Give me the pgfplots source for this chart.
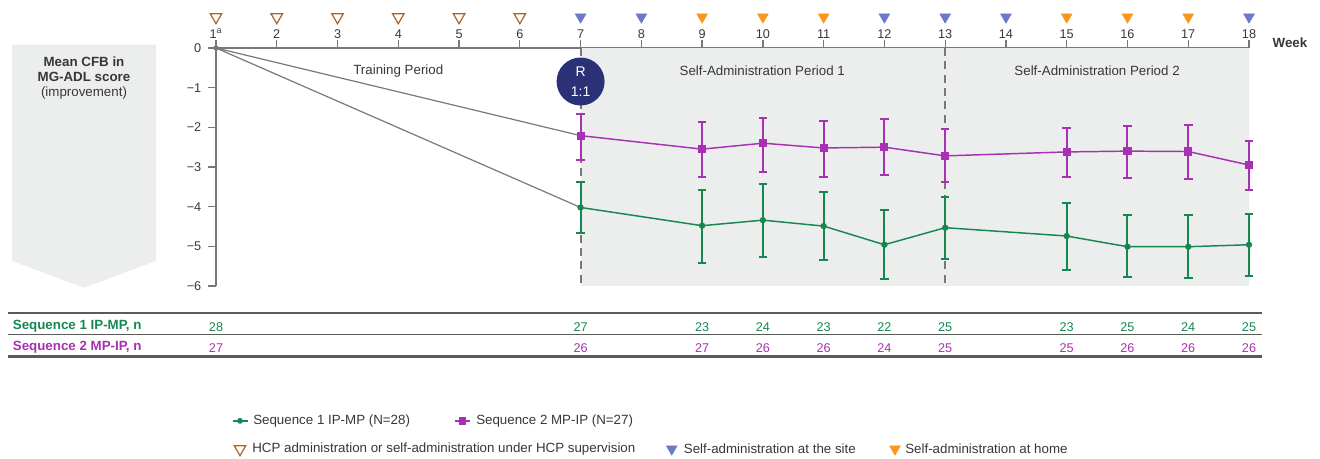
\documentclass[border=0pt]{standalone}
\usepackage{pgfplots}
\usepackage{pgfplotstable}
\pgfplotsset{compat=1.18}
\usepackage{fontspec}
\setmainfont{Liberation Sans}
\definecolor{sgreen}{RGB}{22,135,80}
\definecolor{spurple}{RGB}{168,48,178}
\definecolor{sbrown}{RGB}{170,98,40}
\definecolor{sblue}{RGB}{104,122,200}
\definecolor{sorange}{RGB}{248,150,30}
\definecolor{snavy}{RGB}{43,49,118}
\definecolor{sshade}{RGB}{236,238,237}
\definecolor{stext}{RGB}{55,55,55}
\definecolor{saxis}{RGB}{120,120,120}
\definecolor{sline}{RGB}{90,90,90}

\pgfplotstableread{
x y ep em
7 -4.02 0.64 0.64
9 -4.48 0.90 0.94
10 -4.34 0.91 0.93
11 -4.49 0.86 0.85
12 -4.96 0.88 0.86
13 -4.53 0.77 0.79
15 -4.74 0.83 0.86
16 -5.01 0.80 0.76
17 -5.01 0.80 0.79
18 -4.96 0.78 0.78
}\greendata

\pgfplotstableread{
x y ep em
7 -2.21 0.54 0.61
9 -2.55 0.68 0.70
10 -2.40 0.64 0.72
11 -2.52 0.69 0.73
12 -2.50 0.72 0.69
13 -2.72 0.68 0.66
15 -2.62 0.60 0.63
16 -2.60 0.64 0.68
17 -2.61 0.68 0.69
18 -2.95 0.61 0.63
}\purpledata

\pgfplotstableread{
x y n
1 -7.03 28
7 -7.03 27
9 -7.03 23
10 -7.03 24
11 -7.03 23
12 -7.03 22
13 -7.03 25
15 -7.03 23
16 -7.03 25
17 -7.03 24
18 -7.03 25
}\greenn

\pgfplotstableread{
x y n
1 -7.56 27
7 -7.56 26
9 -7.56 27
10 -7.56 26
11 -7.56 26
12 -7.56 24
13 -7.56 25
15 -7.56 25
16 -7.56 26
17 -7.56 26
18 -7.56 26
}\purplen

\begin{document}
\begin{tikzpicture}
\begin{scope}[x=0.75pt,y=0.75pt]
\useasboundingbox (0,0) rectangle (1320,459);
% left arrow
\fill[sshade] (12,414.3) -- (156,414.3) -- (156,198) -- (84,171.3) -- (12,198) -- cycle;
\node[text=stext, font=\bfseries\fontsize{10}{11}\selectfont] at (84,397.3) {Mean CFB in};
\node[text=stext, font=\bfseries\fontsize{10}{11}\selectfont] at (84,382.3) {MG-ADL score};
\node[text=stext, font=\fontsize{10}{11}\selectfont] at (84,366) {(improvement)};
\end{scope}

\begin{axis}[
  at={(162pt,129.75pt)}, anchor=south west, scale only axis,
  width=774.75pt, height=178.5pt,
  xmin=1, xmax=18, ymin=-6, ymax=0,
  clip=false,
  axis x line*=top, axis y line*=left,
  axis line style={saxis, line width=1.1pt},
  xtick={1,...,18},
  xticklabels={1\textsuperscript{a},2,3,4,5,6,7,8,9,10,11,12,13,14,15,16,17,18},
  ytick={-6,-5,-4,-3,-2,-1,0},
  yticklabels={−6,−5,−4,−3,−2,−1,0},
  tick align=outside,
  major tick length=6pt,
  tick style={saxis, line width=1pt},
  ticklabel style={font=\fontsize{9.5}{11}\selectfont, text=stext},
  xticklabel style={yshift=-2.2pt},
  yticklabel style={xshift=-1.5pt},
]
% shaded region
\fill[sshade] (axis cs:7,-0.01) rectangle (axis cs:18,-6);
% dashed lines
\draw[saxis, line width=1.4pt, dash pattern=on 6pt off 4pt] (axis cs:7,0) -- (axis cs:7,-6);
\draw[saxis, line width=1.4pt, dash pattern=on 6pt off 4pt] (axis cs:13,0) -- (axis cs:13,-6);
% period labels
\node[text=stext, font=\fontsize{10}{11}\selectfont] at (axis cs:4.0,-0.57) {Training Period};
\node[text=stext, font=\fontsize{10}{11}\selectfont] at (axis cs:9.99,-0.57) {Self-Administration Period 1};
\node[text=stext, font=\fontsize{10}{11}\selectfont] at (axis cs:15.5,-0.57) {Self-Administration Period 2};

% gray training lines
\addplot[saxis, line width=0.9pt, mark=none] coordinates {(1,0) (7,-2.21)};
\addplot[saxis, line width=0.9pt, mark=none] coordinates {(1,0) (7,-4.02)};
\addplot[saxis, only marks, mark=*, mark size=1.8pt] coordinates {(1,0)};

% series
\addplot[sgreen, line width=1.1pt, mark=*, mark size=1.8pt,
  error bars/.cd, y dir=both, y explicit,
  error bar style={line width=1.5pt, sgreen},
  error mark options={rotate=90, mark size=3.2pt, line width=1.5pt, sgreen}]
  table[x=x, y=y, y error plus=ep, y error minus=em] {\greendata};
\addplot[spurple, line width=1.1pt, mark=square*, mark size=2.5pt,
  error bars/.cd, y dir=both, y explicit,
  error bar style={line width=1.5pt, spurple},
  error mark options={rotate=90, mark size=3.2pt, line width=1.5pt, spurple}]
  table[x=x, y=y, y error plus=ep, y error minus=em] {\purpledata};

% R 1:1 circle
\node[circle, fill=snavy, minimum size=36pt, inner sep=0pt, text=white, align=center,
  font=\fontsize{10.5}{15}\selectfont] at (axis cs:7,-0.845) {R\\1:1};

% top markers
\addplot[sbrown, only marks, mark=triangle, mark size=5pt, mark options={rotate=180, line width=0.9pt}]
  coordinates {(1,0.78) (2,0.78) (3,0.78) (4,0.78) (5,0.78) (6,0.78)};
\addplot[sblue, only marks, mark=triangle*, mark size=4.6pt, mark options={rotate=180, draw=none, fill=sblue}]
  coordinates {(7,0.78) (8,0.78) (12,0.78) (13,0.78) (14,0.78) (18,0.78)};
\addplot[sorange, only marks, mark=triangle*, mark size=4.6pt, mark options={rotate=180, draw=none, fill=sorange}]
  coordinates {(9,0.78) (10,0.78) (11,0.78) (15,0.78) (16,0.78) (17,0.78)};

% n table numbers
\addplot[draw=none, mark=none, nodes near coords, point meta=explicit symbolic,
  nodes near coords style={anchor=center, text=sgreen, font=\fontsize{9.5}{11}\selectfont}]
  table[x=x, y=y, meta=n] {\greenn};
\addplot[draw=none, mark=none, nodes near coords, point meta=explicit symbolic,
  nodes near coords style={anchor=center, text=spurple, font=\fontsize{9.5}{11}\selectfont}]
  table[x=x, y=y, meta=n] {\purplen};

% legend samples
\addplot[sgreen, line width=1.1pt, mark=*, mark size=1.6pt, mark indices={2}]
  coordinates {(1.28,-9.40) (1.395,-9.40) (1.527,-9.40)};
\addplot[spurple, line width=1.1pt, mark=square*, mark size=2.2pt, mark indices={2}]
  coordinates {(4.933,-9.40) (5.057,-9.40) (5.18,-9.40)};
\addplot[sbrown, only marks, mark=triangle, mark size=5pt, mark options={rotate=180, line width=0.9pt}]
  coordinates {(1.395,-10.11)};
\addplot[sblue, only marks, mark=triangle*, mark size=4.6pt, mark options={rotate=180, draw=none, fill=sblue}]
  coordinates {(8.50,-10.11)};
\addplot[sorange, only marks, mark=triangle*, mark size=4.6pt, mark options={rotate=180, draw=none, fill=sorange}]
  coordinates {(12.174,-10.11)};
\end{axis}

\begin{scope}[x=0.75pt,y=0.75pt]
% Week label
\node[text=stext, font=\bfseries\fontsize{10}{11}\selectfont] at (1290,416) {Week};

% table lines
\draw[sline, line width=2pt] (8,146) -- (1262,146);
\draw[sline, line width=1.3pt] (8,124.5) -- (1262,124.5);
\draw[sline, line width=1.6pt] (8,102.5) -- (1262,102.5);
\node[anchor=west, inner sep=0pt, text=sgreen, font=\bfseries\fontsize{10}{11}\selectfont] at (12.6,132.3) {Sequence 1 IP-MP, n};
\node[anchor=west, inner sep=0pt, text=spurple, font=\bfseries\fontsize{10}{11}\selectfont] at (12.6,111.3) {Sequence 2 MP-IP, n};

% legend texts
\node[anchor=west, inner sep=0pt, text=stext, font=\fontsize{10}{11}\selectfont] at (253,38) {Sequence 1 IP-MP (N=28)};
\node[anchor=west, inner sep=0pt, text=stext, font=\fontsize{10}{11}\selectfont] at (476,38) {Sequence 2 MP-IP (N=27)};
\node[anchor=west, inner sep=0pt, text=stext, font=\fontsize{10}{11}\selectfont] at (252,10) {HCP administration or self-administration under HCP supervision};
\node[anchor=west, inner sep=0pt, text=stext, font=\fontsize{10}{11}\selectfont] at (683.6,10) {Self-administration at the site};
\node[anchor=west, inner sep=0pt, text=stext, font=\fontsize{10}{11}\selectfont] at (905,10) {Self-administration at home};
\end{scope}
\end{tikzpicture}
\end{document}
